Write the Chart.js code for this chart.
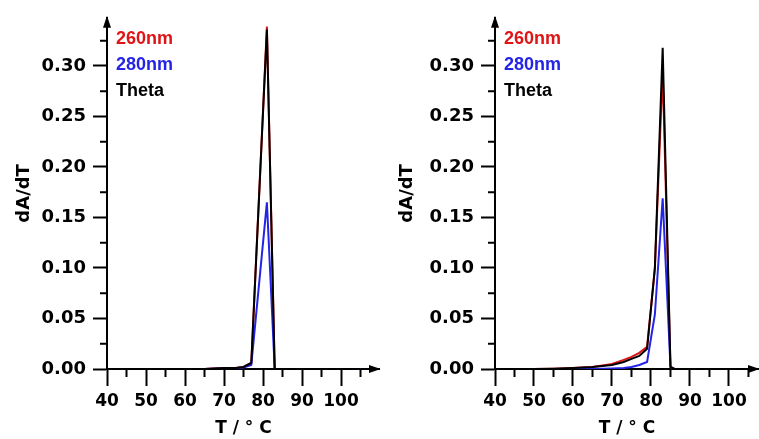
<!DOCTYPE html>
<html>
<head>
<meta charset="utf-8">
<script src="https://cdn.jsdelivr.net/npm/chart.js@4.4.1/dist/chart.umd.min.js"></script>
<style>
  html, body { margin: 0; padding: 0; background: #fff; }
  #wrap { position: relative; width: 759px; height: 439px; overflow: hidden; }
  #c1 { position: absolute; left: 0; top: 0; }
  #c2 { position: absolute; left: 380px; top: 0; }
</style>
</head>
<body>
<div id="wrap">
  <canvas id="c1" width="380" height="439"></canvas>
  <canvas id="c2" width="379" height="439"></canvas>
</div>
<script>
// series, drawn in this order (first one on top)
var seriesNames = ['Theta', '280nm', '260nm'];
var seriesColors = ['#000000', '#2424e6', '#e01414'];

// left panel
var tempA  = [40, 45, 50, 55, 60, 65, 70, 73, 75, 77, 81, 83, 85, 90, 95, 100, 105];
var thetaA = [0, 0, 0, 0, 0, 0, 0.001, 0.001, 0.002, 0.006, 0.336, 0, 0, 0, 0, 0, 0];
var nm280A = [0, 0, 0, 0, 0, 0, 0.0005, 0.001, 0.0015, 0.004, 0.165, 0, 0, 0, 0, 0, 0];
var nm260A = [0, 0, 0, 0, 0, 0, 0.001, 0.001, 0.002, 0.006, 0.339, 0, 0, 0, 0, 0, 0];

// right panel
var tempB  = [40, 45, 50, 55, 60, 65, 70, 73, 75, 77, 79, 81, 83, 85, 86, 90, 95, 100, 105];
var thetaB = [0, 0, 0, 0.0003, 0.001, 0.002, 0.004, 0.007, 0.010, 0.013, 0.020, 0.100, 0.318, 0.002, 0, 0, 0, 0, 0];
var nm280B = [0, 0, 0, 0, 0, 0, 0.0005, 0.001, 0.002, 0.004, 0.007, 0.054, 0.169, 0.002, 0, 0, 0, 0, 0];
var nm260B = [0, 0, 0, 0.0003, 0.001, 0.002, 0.005, 0.009, 0.012, 0.016, 0.022, 0.100, 0.295, 0.002, 0, 0, 0, 0, 0];

var xMajorTicks = [40, 50, 60, 70, 80, 90, 100];
var yMajorTicks = [0, 0.05, 0.10, 0.15, 0.20, 0.25, 0.30];
var xMinorTicks = [45, 55, 65, 75, 85, 95, 105];
var yMinorTicks = [0.025, 0.075, 0.125, 0.175, 0.225, 0.275, 0.325];

var tickFont = '"DejaVu Sans", sans-serif';

function pts(xs, ys) {
  return xs.map(function (x, i) { return { x: x, y: ys[i] }; });
}

// minor ticks, arrow heads and the coloured text legend
var axisDecor = {
  id: 'axisDecor',
  afterDraw: function (chart) {
    var ctx = chart.ctx, a = chart.chartArea;
    var xs = chart.scales.x, ys = chart.scales.y;
    ctx.save();
    ctx.strokeStyle = '#000';
    ctx.fillStyle = '#000';
    ctx.lineWidth = 2;
    ctx.beginPath();
    xMinorTicks.forEach(function (v) {
      if (v > xs.max) return;
      var px = xs.getPixelForValue(v);
      ctx.moveTo(px, a.bottom);
      ctx.lineTo(px, a.bottom + 8);
    });
    yMinorTicks.forEach(function (v) {
      if (v > ys.max) return;
      var py = ys.getPixelForValue(v);
      ctx.moveTo(a.left - 7, py);
      ctx.lineTo(a.left, py);
    });
    ctx.stroke();

    // arrow heads
    ctx.beginPath();
    ctx.moveTo(a.left, a.top - 2);
    ctx.lineTo(a.left - 4, a.top + 10);
    ctx.lineTo(a.left + 4, a.top + 10);
    ctx.closePath();
    ctx.fill();
    ctx.beginPath();
    ctx.moveTo(a.right + 1, a.bottom);
    ctx.lineTo(a.right - 11, a.bottom - 4);
    ctx.lineTo(a.right - 11, a.bottom + 4);
    ctx.closePath();
    ctx.fill();

    // legend text
    ctx.font = 'bold 18px "Liberation Sans", Arial, sans-serif';
    ctx.textBaseline = 'middle';
    ctx.textAlign = 'left';
    var ds = chart.data.datasets.slice().reverse();
    ds.forEach(function (d, i) {
      ctx.fillStyle = d.borderColor;
      ctx.fillText(d.label, a.left + 9, a.top + 21 + i * 26);
    });
    ctx.restore();
  }
};

function makeChart(id, temps, theta, nm280, nm260, yWidth, xMax, titleGap) {
  var series = [theta, nm280, nm260];
  return new Chart(document.getElementById(id), {
    type: 'line',
    data: {
      datasets: series.map(function (s, i) {
        return {
          label: seriesNames[i],
          data: pts(temps, s),
          borderColor: seriesColors[i],
          backgroundColor: seriesColors[i],
          borderWidth: 2,
          pointRadius: 0,
          tension: 0,
          fill: false
        };
      })
    },
    options: {
      responsive: false,
      animation: false,
      layout: { padding: { top: 12, left: 0, right: 0, bottom: 0 } },
      plugins: { legend: { display: false }, tooltip: { enabled: false } },
      scales: {
        x: {
          type: 'linear',
          min: 40,
          max: xMax,
          afterFit: function (s) { s.height = 70; },
          afterBuildTicks: function (s) {
            s.ticks = xMajorTicks.map(function (v) { return { value: v }; });
          },
          ticks: {
            stepSize: 10,
            padding: 5,
            color: '#000',
            font: { family: tickFont, size: 17, weight: 'bold' },
            callback: function (v) { return String(v); }
          },
          grid: { drawOnChartArea: false, tickLength: 17, tickWidth: 2, tickColor: '#000' },
          border: { display: true, color: '#000', width: 2 },
          title: {
            display: true,
            text: 'T / \u00b0 C',
            color: '#000',
            padding: { top: 0, bottom: 0 },
            font: { family: tickFont, size: 17, weight: 'bold' }
          }
        },
        y: {
          type: 'linear',
          min: 0,
          max: 0.3477,
          afterFit: function (s) { s.width = yWidth; },
          afterBuildTicks: function (s) {
            s.ticks = yMajorTicks.map(function (v) { return { value: v }; });
          },
          ticks: {
            stepSize: 0.05,
            padding: 7,
            color: '#000',
            font: { family: tickFont, size: 18, weight: 'bold' },
            callback: function (v) { return Number(v).toFixed(2); }
          },
          grid: { drawOnChartArea: false, tickLength: 14, tickWidth: 2, tickColor: '#000' },
          border: { display: true, color: '#000', width: 2 },
          title: {
            display: true,
            text: 'dA/dT',
            color: '#000',
            padding: { top: titleGap, bottom: 0 },
            font: { family: tickFont, size: 18, weight: 'bold' }
          }
        }
      }
    },
    plugins: [axisDecor]
  });
}

makeChart('c1', tempA, thetaA, nm280A, nm260A, 107, 110, 14);
makeChart('c2', tempB, thetaB, nm280B, nm260B, 115, 107.7, 17);
</script>
</body>
</html>
